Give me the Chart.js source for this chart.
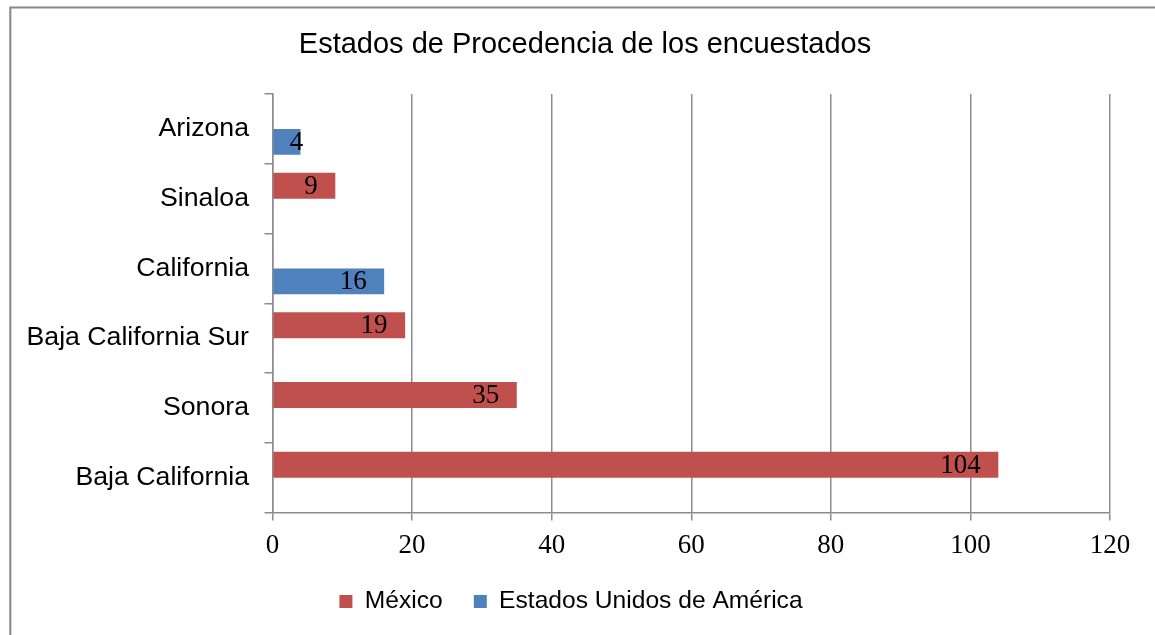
<!DOCTYPE html>
<html><head><meta charset="utf-8">
<script src="https://cdn.jsdelivr.net/npm/chart.js@4/dist/chart.umd.min.js"></script>
<style>html,body{margin:0;padding:0;background:#fff;overflow:hidden}#wrap{width:1155px;height:635px;position:relative}canvas{display:block}</style>
</head><body><div id="wrap"><canvas id="c" width="1155" height="635"></canvas></div>
<script>
const categories = ['Arizona', 'Sinaloa', 'California', 'Baja California Sur', 'Sonora', 'Baja California'];
const seriesNames = ['México', 'Estados Unidos de América'];
const mexico = [null, 9, null, 19, 35, 104];
const usa = [4, null, 16, null, null, null];
const xTicks = [0, 20, 40, 60, 80, 100, 120];
const titleText = 'Estados de Procedencia de los encuestados';

const GRID = '#8c8c8c';
const SANS = '"Liberation Sans", Arial, sans-serif';
const SERIF = '"Liberation Serif", Cambria, serif';

const frame = {
  id: 'frame',
  beforeDraw(chart) {
    const ctx = chart.ctx;
    ctx.save();
    ctx.fillStyle = '#fff';
    ctx.fillRect(0, 0, chart.width, chart.height);
    ctx.strokeStyle = '#868686';
    ctx.lineWidth = 2;
    ctx.strokeRect(10.3, 7.5, 1200, 700);
    ctx.restore();
  }
};

const legendShift = {
  id: 'legendShift',
  afterLayout(chart) {
    if (chart.legend) {
      chart.legend.left -= 14;
      chart.legend.right -= 14;
    }
  }
};

const valueLabels = {
  id: 'valueLabels',
  afterDatasetsDraw(chart) {
    const ctx = chart.ctx;
    ctx.save();
    ctx.font = '27px ' + SERIF;
    ctx.fillStyle = '#000';
    ctx.textBaseline = 'middle';
    ctx.textAlign = 'left';
    chart.data.datasets.forEach((ds, di) => {
      const meta = chart.getDatasetMeta(di);
      meta.data.forEach((bar, i) => {
        const v = ds.data[i];
        if (v === null || v === undefined) return;
        const txt = String(v);
        const w = ctx.measureText(txt).width;
        let left = bar.x - 17.5 - w;
        if (left < bar.base + 16.5) left = bar.base + 16.5;
        ctx.fillText(txt, left, bar.y + 1);
      });
    });
    ctx.restore();
  }
};

new Chart(document.getElementById('c'), {
  type: 'bar',
  data: {
    labels: categories,
    datasets: [
      { label: seriesNames[0], data: mexico, backgroundColor: '#C0504D', categoryPercentage: 0.745, barPercentage: 1 },
      { label: seriesNames[1], data: usa, backgroundColor: '#4F81BD', categoryPercentage: 0.745, barPercentage: 1 }
    ]
  },
  options: {
    indexAxis: 'y',
    responsive: false,
    animation: false,
    devicePixelRatio: 1,
    layout: { padding: { left: 15, right: 0, top: 0, bottom: 11.2 } },
    scales: {
      x: {
        min: xTicks[0], max: xTicks[xTicks.length - 1],
        afterBuildTicks(s) { s.ticks = xTicks.map(v => ({ value: v })); },
        afterFit(s) { s.height = 45.5; },
        ticks: { font: { family: SERIF, size: 27 }, color: '#000', padding: 9.5 },
        grid: { color: GRID, lineWidth: 1.5, drawTicks: true, tickLength: 8, tickColor: GRID },
        border: { color: GRID, width: 1.5 }
      },
      y: {
        afterFit(s) { s.width = 257.5; },
        ticks: { font: { family: SANS, size: 26.7 }, color: '#000', padding: 15.5 },
        grid: { drawOnChartArea: false, drawTicks: true, tickLength: 8, color: GRID, lineWidth: 1.5, offset: true },
        border: { color: GRID, width: 1.5 }
      },
      yRight: {
        axis: 'y', type: 'linear', position: 'right', display: true,
        afterFit(s) { s.width = 45; },
        ticks: { display: false },
        grid: { display: false },
        border: { display: false }
      }
    },
    plugins: {
      title: {
        display: true, text: titleText, color: '#000',
        font: { family: SANS, size: 29, weight: 'normal' },
        padding: { top: 28, bottom: 31.2 }
      },
      legend: {
        position: 'bottom',
        labels: { font: { family: SANS, size: 24.6 }, color: '#000', boxWidth: 13, boxHeight: 13, padding: 31.2 }
      },
      tooltip: { enabled: false }
    }
  },
  plugins: [frame, legendShift, valueLabels]
});
</script>
</body></html>
